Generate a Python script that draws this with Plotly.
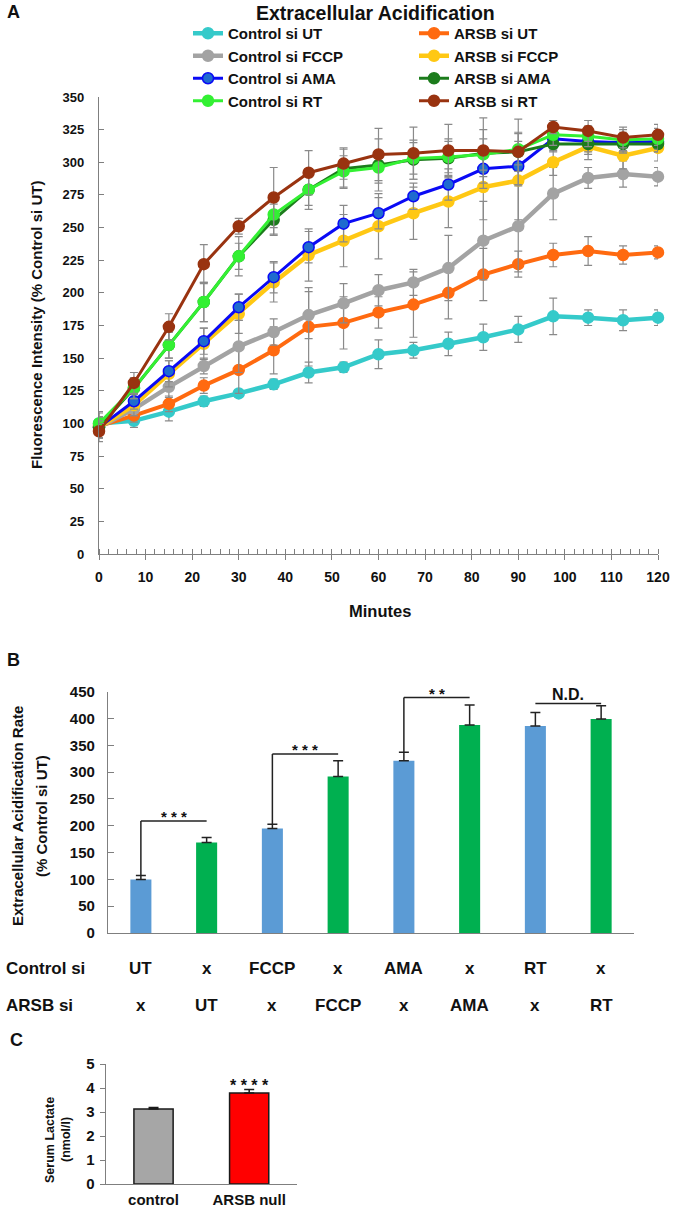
import plotly.graph_objects as go

W, H = 675, 1221
FONT = "Liberation Sans, Arial, sans-serif"

# ---------------- Panel A data ----------------
minutes = [0, 7.5, 15, 22.5, 30, 37.5, 45, 52.5, 60, 67.5, 75, 82.5, 90, 97.5, 105, 112.5, 120]

ctrl_ut = [100, 102, 109, 117, 123, 130, 139, 143, 153, 156, 161, 166, 172, 182, 181, 179, 181]
arsb_ut = [98, 106, 115, 129, 141, 156, 174, 177, 185, 191, 200, 214, 222, 229, 232, 229, 231]
ctrl_fccp = [97, 111, 128, 144, 159, 170, 183, 192, 202, 208, 219, 240, 251, 276, 288, 291, 289]
arsb_fccp = [97, 114, 138, 161, 184, 208, 229, 240, 251, 261, 270, 281, 286, 300, 312, 305, 311]
ctrl_ama = [97, 117, 140, 163, 189, 212, 235, 253, 261, 274, 283, 295, 297, 318, 316, 315, 316]
arsb_ama = [97, 127, 160, 193, 228, 256, 279, 295, 298, 302, 303, 307, 308, 314, 314, 314, 314]
ctrl_rt = [100, 127, 160, 193, 228, 260, 279, 293, 296, 303, 304, 306, 310, 321, 320, 317, 318]
arsb_rt = [94, 131, 174, 222, 251, 273, 292, 299, 306, 307, 309, 309, 308, 327, 324, 319, 321]

ctrl_ut_err = [9, 5, 7, 4, 3, 4, 8, 4, 11, 6, 9, 10, 10, 14, 6, 8, 6]
arsb_ut_err = [6, 5, 6, 6, 18, 18, 30, 20, 12, 25, 20, 20, 10, 9, 11, 7, 5]
ctrl_fccp_err = [8, 5, 8, 6, 20, 10, 18, 15, 12, 10, 25, 30, 35, 20, 8, 10, 7]
arsb_fccp_err = [8, 8, 10, 12, 15, 15, 20, 20, 25, 20, 20, 25, 30, 10, 10, 10, 10]
ctrl_ama_err = [8, 6, 8, 10, 10, 12, 12, 14, 12, 10, 12, 15, 15, 10, 8, 8, 8]
arsb_ama_err = [8, 8, 10, 15, 10, 12, 12, 15, 20, 15, 15, 18, 15, 5, 8, 6, 6]
ctrl_rt_err = [8, 8, 10, 15, 15, 15, 15, 12, 12, 12, 12, 12, 12, 8, 8, 8, 8]
arsb_rt_err = [8, 8, 10, 15, 6, 23, 17, 12, 20, 20, 20, 25, 25, 5, 8, 8, 8]

series_names = ["Control si UT", "ARSB si UT", "Control si FCCP", "ARSB si FCCP",
                "Control si AMA", "ARSB si AMA", "Control si RT", "ARSB si RT"]

# ---------------- Panel B data ----------------
b_groups = ["Control UT", "ARSB UT", "Control FCCP", "ARSB FCCP",
            "Control AMA", "ARSB AMA", "Control RT", "ARSB RT"]
b_values = [100, 169, 195, 292, 321, 388, 386, 399]
b_errors = [7, 9, 8, 29, 16, 37, 25, 25]
control_row = ["UT", "x", "FCCP", "x", "AMA", "x", "RT", "x"]
arsb_row = ["x", "UT", "x", "FCCP", "x", "AMA", "x", "RT"]
# brackets: (left index, right index, height, start of left leg or None, label)
b_brackets = [(0, 1, 209, 107, "* * *"), (2, 3, 334, 203, "* * *"),
              (4, 5, 439, 337, "* *"), (6, 7, 428, None, "N.D.")]

# ---------------- Panel C data ----------------
c_labels = ["control", "ARSB null"]
c_values = [3.12, 3.79]
c_errors = [0.07, 0.15]


def px_x(p):
    return p / W


def px_y(p):
    return 1 - p / H


fig = go.Figure()

styles = [
    dict(color="#35CACA", width=4.5, mfill="#35CACA", mline="#35CACA"),
    dict(color="#FF6A10", width=4, mfill="#FF6A10", mline="#FF6A10"),
    dict(color="#A3A3A3", width=4.5, mfill="#A3A3A3", mline="#A3A3A3"),
    dict(color="#FFC814", width=4.5, mfill="#FFC814", mline="#FFC814"),
    dict(color="#0A0AF5", width=3, mfill="#1E6BCF", mline="#0A0AF5"),
    dict(color="#1C7C1C", width=3, mfill="#1C7C1C", mline="#1C7C1C"),
    dict(color="#33F033", width=3, mfill="#33F033", mline="#33F033"),
    dict(color="#993310", width=3, mfill="#993310", mline="#993310"),
]
ys = [ctrl_ut, arsb_ut, ctrl_fccp, arsb_fccp, ctrl_ama, arsb_ama, ctrl_rt, arsb_rt]
errs = [ctrl_ut_err, arsb_ut_err, ctrl_fccp_err, arsb_fccp_err,
        ctrl_ama_err, arsb_ama_err, ctrl_rt_err, arsb_rt_err]

for i, (name, y, e, s) in enumerate(zip(series_names, ys, errs, styles)):
    fig.add_trace(go.Scatter(
        x=minutes, y=y, name=name, mode="lines+markers",
        line=dict(color=s["color"], width=s["width"]),
        marker=dict(size=11, color=s["mfill"], line=dict(color=s["mline"], width=1.5)),
        error_y=dict(type="data", array=e, color="#8A8A8A", thickness=1.2, width=4),
        cliponaxis=False,
        legend="legend" if i % 2 == 0 else "legend2",
        xaxis="x", yaxis="y",
    ))

# Panel B bars
b_colors = ["#5B9BD5" if i % 2 == 0 else "#00B050" for i in range(len(b_values))]
fig.add_trace(go.Bar(
    x=list(range(len(b_values))), y=b_values, marker=dict(color=b_colors, line=dict(width=0)),
    width=0.32, showlegend=False, xaxis="x2", yaxis="y2",
    error_y=dict(type="data", array=b_errors, arrayminus=[0] * len(b_errors), symmetric=False,
                 color="#222222", thickness=1.5, width=5),
))

# Panel C bars
fig.add_trace(go.Bar(
    x=c_labels, y=c_values, marker=dict(color=["#A6A6A6", "#FF0000"], line=dict(color="#1a1a1a", width=1.5)),
    width=0.41, showlegend=False, xaxis="x3", yaxis="y3",
    error_y=dict(type="data", array=c_errors, arrayminus=[0, 0], symmetric=False,
                 color="#1a1a1a", thickness=1.5, width=5),
))

axis_line = dict(showline=True, linecolor="#7F7F7F", linewidth=1.3, showgrid=False, zeroline=False,
                 automargin=False)

shapes = []
annotations = []

# Brackets for panel B
for (l, r, h, leg, lab) in b_brackets:
    shapes.append(dict(type="line", xref="x2", yref="y2", x0=l, x1=r, y0=h, y1=h,
                       line=dict(color="#222222", width=1.5)))
    if leg is not None:
        shapes.append(dict(type="line", xref="x2", yref="y2", x0=l, x1=l, y0=leg, y1=h,
                           line=dict(color="#222222", width=1.5)))
    if lab == "N.D.":
        annotations.append(dict(text="<b>N.D.</b>", xref="x2", yref="y2", x=(l + r) / 2, y=h,
                                xanchor="center", yanchor="bottom", showarrow=False, yshift=-1,
                                font=dict(size=16, color="#111", family=FONT)))
    else:
        annotations.append(dict(text="<b>%s</b>" % lab, xref="x2", yref="y2", x=(l + r) / 2, y=h,
                                xanchor="center", yanchor="bottom", showarrow=False, yshift=-6,
                                font=dict(size=15, color="#111", family=FONT)))

# table rows under panel B
for i, t in enumerate(control_row):
    annotations.append(dict(text="<b>%s</b>" % t, xref="x2", yref="paper", x=i, y=px_y(968),
                            xanchor="center", yanchor="middle", showarrow=False,
                            font=dict(size=17, color="#111", family=FONT)))
for i, t in enumerate(arsb_row):
    annotations.append(dict(text="<b>%s</b>" % t, xref="x2", yref="paper", x=i, y=px_y(1005),
                            xanchor="center", yanchor="middle", showarrow=False,
                            font=dict(size=17, color="#111", family=FONT)))
for t, yy in [("Control si", 968), ("ARSB si", 1005)]:
    annotations.append(dict(text="<b>%s</b>" % t, xref="paper", yref="paper", x=px_x(4), y=px_y(yy),
                            xanchor="left", yanchor="middle", showarrow=False,
                            font=dict(size=17, color="#111", family=FONT)))

# stars in panel C
annotations.append(dict(text="<b>* * * *</b>", xref="x3", yref="y3", x=c_labels[1],
                        y=c_values[1] + c_errors[1], xanchor="center", yanchor="bottom",
                        showarrow=False, yshift=-7, font=dict(size=16, color="#111", family=FONT)))

# panel letters
for t, xx, yy in [("A", 5, 12), ("B", 5, 660), ("C", 8, 1040)]:
    annotations.append(dict(text="<b>%s</b>" % t, xref="paper", yref="paper", x=px_x(xx), y=px_y(yy),
                            xanchor="left", yanchor="middle", showarrow=False,
                            font=dict(size=18, color="#111", family=FONT)))

# titles
annotations.append(dict(text="<b>Extracellular Acidification</b>", xref="paper", yref="paper",
                        x=px_x(375), y=px_y(13), xanchor="center", yanchor="middle", showarrow=False,
                        font=dict(size=19.5, color="#111", family=FONT)))
annotations.append(dict(text="<b>Minutes</b>", xref="paper", yref="paper",
                        x=px_x(380), y=px_y(611), xanchor="center", yanchor="middle", showarrow=False,
                        font=dict(size=16.5, color="#111", family=FONT)))
annotations.append(dict(text="<b>Fluorescence Intensity (% Control si UT)</b>", xref="paper", yref="paper",
                        x=px_x(37), y=px_y(325), xanchor="center", yanchor="middle", showarrow=False,
                        textangle=-90, font=dict(size=15, color="#111", family=FONT)))
annotations.append(dict(text="<b>Extracellular Acidification Rate</b>", xref="paper", yref="paper",
                        x=px_x(17), y=px_y(816), xanchor="center", yanchor="middle", showarrow=False,
                        textangle=-90, font=dict(size=15, color="#111", family=FONT)))
annotations.append(dict(text="<b>(% Control si UT)</b>", xref="paper", yref="paper",
                        x=px_x(41), y=px_y(816), xanchor="center", yanchor="middle", showarrow=False,
                        textangle=-90, font=dict(size=15, color="#111", family=FONT)))
annotations.append(dict(text="<b>Serum Lactate</b>", xref="paper", yref="paper",
                        x=px_x(50), y=px_y(1140), xanchor="center", yanchor="middle", showarrow=False,
                        textangle=-90, font=dict(size=12.5, color="#111", family=FONT)))
annotations.append(dict(text="<b>(nmol/l)</b>", xref="paper", yref="paper",
                        x=px_x(66), y=px_y(1140), xanchor="center", yanchor="middle", showarrow=False,
                        textangle=-90, font=dict(size=12.5, color="#111", family=FONT)))

legend_common = dict(orientation="v", yanchor="top", xanchor="left", bgcolor="rgba(0,0,0,0)",
                     font=dict(size=15, color="#111", family=FONT, weight="bold"),
                     traceorder="normal", itemwidth=30)

fig.update_layout(
    width=W, height=H, autosize=False, margin=dict(l=0, r=0, t=0, b=0, pad=0, autoexpand=False),
    paper_bgcolor="white", plot_bgcolor="white",
    font=dict(family=FONT, color="#111"),
    legend=dict(x=px_x(188), y=px_y(17), **legend_common),
    legend2=dict(x=px_x(414), y=px_y(17), **legend_common),
    xaxis=dict(domain=[px_x(99), px_x(658)], range=[0, 120], anchor="y", dtick=10,
               ticks="outside", ticklen=5, tickcolor="#7F7F7F", tickwidth=1.2, ticklabelstandoff=5,
               minor=dict(dtick=2, ticks="inside", ticklen=5, tickcolor="#7F7F7F", tickwidth=1),
               tickfont=dict(size=14, family=FONT, weight="bold", color="#111"), **axis_line),
    yaxis=dict(domain=[px_y(554), px_y(97)], range=[0, 350], anchor="x", dtick=25,
               ticks="inside", ticklen=5, tickcolor="#7F7F7F", tickwidth=1.2, ticklabelstandoff=11,
               tickfont=dict(size=13, family=FONT, weight="bold", color="#111"), **axis_line),
    xaxis2=dict(domain=[px_x(108), px_x(634)], range=[-0.5, 7.5], anchor="y2",
                showticklabels=False, ticks="", **axis_line),
    yaxis2=dict(domain=[px_y(933), px_y(691.7)], range=[0, 450], anchor="x2", dtick=50,
                ticks="inside", ticklen=6, tickcolor="#7F7F7F", tickwidth=1.2, ticklabelstandoff=9,
                tickfont=dict(size=15, family=FONT, weight="bold", color="#111"), **axis_line),
    xaxis3=dict(domain=[px_x(105.7), px_x(297)], anchor="y3", type="category", ticks="",
                ticklabelstandoff=2,
                tickfont=dict(size=15, family=FONT, weight="bold", color="#111"), **axis_line),
    yaxis3=dict(domain=[px_y(1184), px_y(1064)], range=[0, 5], anchor="x3", dtick=1,
                ticks="outside", ticklen=5, tickcolor="#7F7F7F", tickwidth=1.2, ticklabelstandoff=2,
                tickfont=dict(size=15, family=FONT, weight="bold", color="#111"), **axis_line),
    shapes=shapes, annotations=annotations,
)

fig.write_html(
    "out.html",
    config={"responsive": False, "displayModeBar": False},
    post_script="document.body.style.margin='0px';document.body.style.overflow='hidden';",
)
